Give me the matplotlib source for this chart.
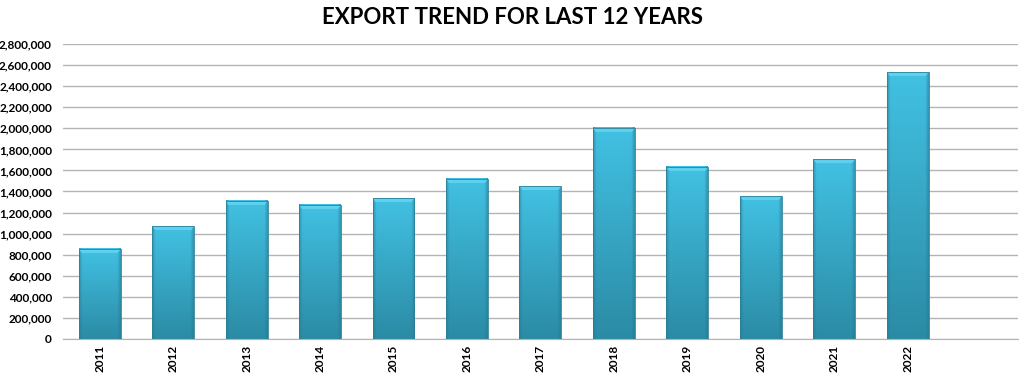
import matplotlib.pyplot as plt
import numpy as np
from matplotlib.ticker import FuncFormatter
from matplotlib.colors import to_rgb

years = ['2011', '2012', '2013', '2014', '2015', '2016',
         '2017', '2018', '2019', '2020', '2021', '2022']
exports = [855000, 1072000, 1310000, 1272000, 1338000, 1519000,
           1452000, 2003000, 1633000, 1357000, 1708000, 2534000]

plt.rcParams['font.family'] = ['Lato', 'DejaVu Sans']

fig = plt.figure(figsize=(10.24, 3.85), dpi=100)
ax = fig.add_axes([0.0615, 0.1195, 0.9325, 0.7662])

x = np.arange(len(years))
width = 0.57
ax.set_xlim(-0.5, len(years) + 0.5)
ax.set_ylim(0, 2800000)

# gradient image for a bar: lighter at top, darker at bottom, darker edges
top_c = np.array(to_rgb('#42c1e3'))
bot_c = np.array(to_rgb('#2b8ba5'))
edge_c = np.array(to_rgb('#27768e'))
rows, cols = 200, 60
t = np.linspace(0, 1, rows)[:, None, None]          # 0 top -> 1 bottom
grad = top_c * (1 - t) + bot_c * t
grad = np.repeat(grad, cols, axis=1)
u = np.linspace(-1, 1, cols)
edge = np.clip((np.abs(u) - 0.84) / 0.16, 0, 1)[None, :, None]
img = grad * (1 - edge * 0.55) + edge_c * edge * 0.55

bevel = 2800000 * 4 / 295  # ~4 px lighter top face
for xi, v in zip(x, exports):
    ax.bar(xi, v, width, color='none', edgecolor='#2d8199', linewidth=0.6, zorder=3)
    ax.imshow(img, extent=[xi - width / 2, xi + width / 2, 0, v],
              aspect='auto', zorder=2, interpolation='bilinear')
    ax.fill([xi - width / 2, xi + width / 2, xi + width / 2 - 0.04, xi - width / 2 + 0.04],
            [v, v, v - bevel, v - bevel], color='#5fd1ee', zorder=2.5, lw=0)

ax.set_xlim(-0.5, len(years) + 0.5)
ax.set_ylim(0, 2800000)
ax.set_yticks(np.arange(0, 2800001, 200000))
ax.yaxis.set_major_formatter(FuncFormatter(lambda v, p: f'{int(v):,}'))
ax.set_xticks(x)
ax.set_xticklabels(years, rotation=90, fontsize=8.5, fontweight='bold')
for lab in ax.get_yticklabels():
    lab.set_fontsize(8.5)
    lab.set_fontweight('bold')

ax.grid(axis='y', color='#b4b4b4', linewidth=1, zorder=0)
ax.set_axisbelow(True)
for s in ['top', 'right', 'left']:
    ax.spines[s].set_visible(False)
ax.spines['bottom'].set_color('#b4b4b4')
ax.tick_params(axis='y', length=0, pad=8)
ax.tick_params(axis='x', length=0, pad=4)

fig.text(0.5, 0.955, 'EXPORT TREND FOR LAST 12 YEARS', ha='center', va='center',
         fontsize=16, fontweight='bold')

fig.savefig('out.png', dpi=100)
